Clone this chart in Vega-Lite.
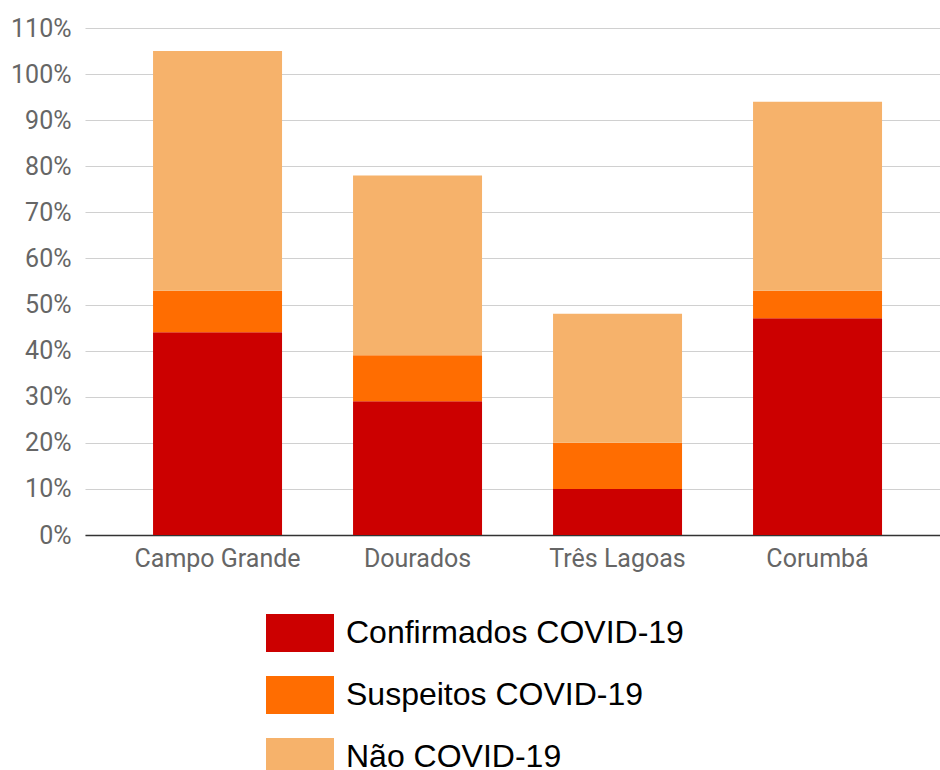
{
  "$schema": "https://vega.github.io/schema/vega-lite/v6.json",
  "width": 855,
  "height": 507,
  "autosize": {"type": "none"},
  "padding": {"left": 85, "top": 28, "right": 0, "bottom": 235},
  "background": "white",
  "data": {
    "values": [
      {"cidade": "Campo Grande", "categoria": "Confirmados COVID-19", "ordem": 1, "valor": 0.44},
      {"cidade": "Campo Grande", "categoria": "Suspeitos COVID-19", "ordem": 2, "valor": 0.09},
      {"cidade": "Campo Grande", "categoria": "Não COVID-19", "ordem": 3, "valor": 0.52},
      {"cidade": "Dourados", "categoria": "Confirmados COVID-19", "ordem": 1, "valor": 0.29},
      {"cidade": "Dourados", "categoria": "Suspeitos COVID-19", "ordem": 2, "valor": 0.10},
      {"cidade": "Dourados", "categoria": "Não COVID-19", "ordem": 3, "valor": 0.39},
      {"cidade": "Três Lagoas", "categoria": "Confirmados COVID-19", "ordem": 1, "valor": 0.10},
      {"cidade": "Três Lagoas", "categoria": "Suspeitos COVID-19", "ordem": 2, "valor": 0.10},
      {"cidade": "Três Lagoas", "categoria": "Não COVID-19", "ordem": 3, "valor": 0.28},
      {"cidade": "Corumbá", "categoria": "Confirmados COVID-19", "ordem": 1, "valor": 0.47},
      {"cidade": "Corumbá", "categoria": "Suspeitos COVID-19", "ordem": 2, "valor": 0.06},
      {"cidade": "Corumbá", "categoria": "Não COVID-19", "ordem": 3, "valor": 0.41}
    ]
  },
  "mark": {"type": "bar"},
  "encoding": {
    "x": {
      "field": "cidade",
      "type": "nominal",
      "sort": ["Campo Grande", "Dourados", "Três Lagoas", "Corumbá"],
      "scale": {"paddingInner": 0.355, "paddingOuter": 0.315, "align": 0.54},
      "axis": {
        "title": null,
        "labelAngle": 0,
        "labelFont": "Roboto",
        "labelFontSize": 25,
        "labelColor": "#666666",
        "labelPadding": 11,
        "ticks": false,
        "domainColor": "#333333",
        "domainWidth": 1.5,
        "grid": false
      }
    },
    "y": {
      "field": "valor",
      "type": "quantitative",
      "stack": "zero",
      "scale": {"domain": [0, 1.1], "nice": false},
      "axis": {
        "title": null,
        "values": [0, 0.1, 0.2, 0.3, 0.4, 0.5, 0.6, 0.7, 0.8, 0.9, 1.0, 1.1],
        "format": ".0%",
        "labelFont": "Roboto",
        "labelFontSize": 25,
        "labelColor": "#666666",
        "labelPadding": 14,
        "ticks": false,
        "domain": false,
        "gridColor": "#d0d0d0",
        "gridWidth": 1.2
      }
    },
    "color": {
      "field": "categoria",
      "type": "nominal",
      "sort": ["Confirmados COVID-19", "Suspeitos COVID-19", "Não COVID-19"],
      "scale": {
        "domain": ["Confirmados COVID-19", "Suspeitos COVID-19", "Não COVID-19"],
        "range": ["#cc0000", "#ff6d01", "#f6b26b"]
      },
      "legend": {
        "title": null,
        "orient": "none",
        "direction": "vertical",
        "legendX": 181,
        "legendY": 571,
        "padding": 0,
        "symbolType": "M-1,-0.56H1V0.56H-1Z",
        "symbolSize": 4624,
        "symbolStrokeWidth": 0,
        "symbolOpacity": 1,
        "labelFont": "Liberation Sans",
        "labelFontSize": 32,
        "labelColor": "#000000",
        "labelOffset": 12,
        "rowPadding": 8,
        "labelLimit": 600
      }
    },
    "order": {"field": "ordem", "type": "quantitative", "sort": "ascending"}
  },
  "config": {
    "view": {"stroke": null}
  }
}
